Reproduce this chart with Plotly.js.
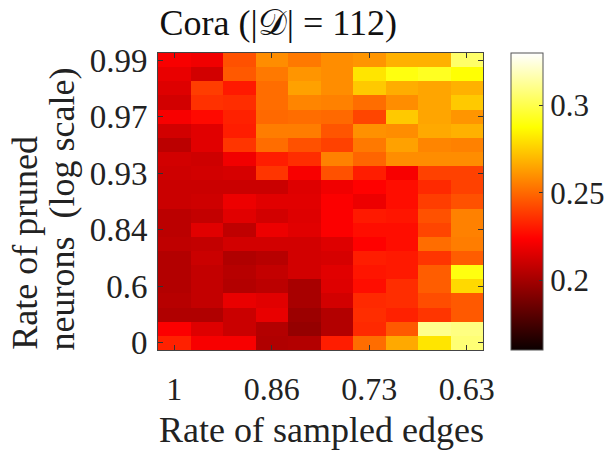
<!DOCTYPE html>
<html>
<head>
<meta charset="utf-8">
<script src="https://cdn.plot.ly/plotly-3.0.1.min.js"></script>
<style>html,body{margin:0;padding:0;background:#fff;}#chart{width:610px;height:452px;}</style>
</head>
<body>
<div id="chart"></div>
<script>
// Columns: rate of sampled edges (index 0..9), rows: rate of pruned neurons (index 0..20, bottom to top)
const colIdx = [0,1,2,3,4,5,6,7,8,9];
const rowIdx = [0,1,2,3,4,5,6,7,8,9,10,11,12,13,14,15,16,17,18,19,20];
const xTickVals = [0,3,6,9];
const xTickText = ['1','0.86','0.73','0.63'];
const yTickVals = [0,4,8,12,16,20];
const yTickText = ['0','0.6','0.84','0.93','0.97','0.99'];
const cbTickVals = [0.2,0.25,0.3];
const cbTickText = ['0.2','0.25','0.3'];

// rows listed bottom (0) to top (0.99)
const row00 = [0.232,0.222,0.222,0.203,0.204,0.231,0.251,0.266,0.281,0.307];
const row01 = [0.223,0.215,0.210,0.204,0.196,0.204,0.234,0.246,0.311,0.309];
const row02 = [0.203,0.203,0.210,0.218,0.198,0.204,0.235,0.232,0.237,0.246];
const row03 = [0.205,0.208,0.218,0.216,0.201,0.212,0.234,0.235,0.243,0.246];
const row04 = [0.204,0.208,0.204,0.206,0.201,0.215,0.227,0.235,0.247,0.278];
const row05 = [0.204,0.208,0.205,0.208,0.212,0.216,0.229,0.230,0.247,0.290];
const row06 = [0.204,0.210,0.203,0.205,0.212,0.213,0.231,0.230,0.237,0.247];
const row07 = [0.207,0.208,0.212,0.212,0.212,0.215,0.224,0.227,0.251,0.255];
const row08 = [0.206,0.216,0.207,0.219,0.216,0.223,0.227,0.227,0.241,0.256];
const row09 = [0.206,0.208,0.216,0.212,0.215,0.223,0.230,0.229,0.244,0.256];
const row10 = [0.210,0.211,0.219,0.216,0.216,0.223,0.219,0.227,0.239,0.244];
const row11 = [0.210,0.210,0.210,0.210,0.215,0.220,0.224,0.227,0.234,0.240];
const row12 = [0.211,0.212,0.213,0.237,0.222,0.244,0.231,0.222,0.240,0.240];
const row13 = [0.212,0.211,0.220,0.231,0.235,0.256,0.249,0.259,0.259,0.259];
const row14 = [0.206,0.216,0.237,0.251,0.244,0.240,0.254,0.264,0.257,0.256];
const row15 = [0.212,0.216,0.231,0.255,0.255,0.245,0.260,0.259,0.266,0.268];
const row16 = [0.222,0.226,0.232,0.250,0.251,0.250,0.241,0.274,0.265,0.261];
const row17 = [0.212,0.236,0.235,0.251,0.257,0.256,0.251,0.259,0.265,0.274];
const row18 = [0.215,0.239,0.230,0.251,0.264,0.259,0.274,0.267,0.265,0.268];
const row19 = [0.218,0.212,0.246,0.254,0.261,0.259,0.281,0.290,0.293,0.288];
const row20 = [0.222,0.220,0.244,0.259,0.254,0.259,0.261,0.268,0.268,0.305];

const zRows = [row00,row01,row02,row03,row04,row05,row06,row07,row08,row09,row10,
               row11,row12,row13,row14,row15,row16,row17,row18,row19,row20];

// MATLAB "hot" colormap
const hot = [[0,'rgb(11,0,0)'],[0.375,'rgb(255,0,0)'],[0.75,'rgb(255,255,0)'],[1,'rgb(255,255,255)']];

const FONT = '"Liberation Serif", "Times New Roman", serif';

const trace = {
  type: 'heatmap',
  x: colIdx, y: rowIdx, z: zRows,
  colorscale: hot, zmin: 0.16, zmax: 0.33,
  colorbar: {
    x: 1.086, xanchor: 'left', xref: 'paper',
    y: 0.5, yanchor: 'middle', len: 1, lenmode: 'fraction',
    thickness: 32, thicknessmode: 'pixels',
    outlinecolor: '#555', outlinewidth: 1,
    tickvals: cbTickVals, ticktext: cbTickText,
    ticks: 'inside', ticklen: 4, tickcolor: '#333',
    tickfont: {family: FONT, size: 31, color: '#222'},
    xpad: 0, ypad: 0
  },
  hoverinfo: 'skip'
};

const layout = {
  width: 610, height: 452,
  margin: {l: 158, r: 127, t: 53, b: 102, autoexpand: false},
  paper_bgcolor: '#fff', plot_bgcolor: '#fff',
  font: {family: FONT, color: '#222'},
  title: {text: 'Cora (|𝒟| = 112)', font: {family: FONT, size: 36, color: '#111'},
          x: 0.37, xref: 'paper', xanchor: 'center', y: 0.95, yref: 'container', yanchor: 'middle'},
  xaxis: {
    range: [-0.5, 9.5], tickvals: xTickVals, ticktext: xTickText,
    ticks: 'inside', ticklen: 5, tickcolor: '#333', showline: true, linecolor: '#444', linewidth: 1,
    mirror: 'ticks', showgrid: false, zeroline: false, automargin: false,
    tickfont: {family: FONT, size: 32, color: '#222'}, ticklabelstandoff: 11
  },
  yaxis: {
    range: [-0.5, 20.5], tickvals: yTickVals, ticktext: yTickText,
    ticks: 'inside', ticklen: 5, tickcolor: '#333', showline: true, linecolor: '#444', linewidth: 1,
    mirror: 'ticks', showgrid: false, zeroline: false, automargin: false,
    tickfont: {family: FONT, size: 33, color: '#222'}, ticklabelstandoff: 3
  },
  annotations: [
    {text: 'Rate of sampled edges', xref: 'paper', yref: 'paper',
     x: 0.502, y: -0.27, xanchor: 'center', yanchor: 'middle', showarrow: false,
     font: {family: FONT, size: 36, color: '#222'}},
    {text: 'Rate of pruned', textangle: -90, xref: 'paper', yref: 'paper',
     x: -0.41, y: -0.007, xanchor: 'center', yanchor: 'bottom', showarrow: false,
     font: {family: FONT, size: 36, color: '#222'}},
    {text: 'neurons  (log scale)', textangle: -90, xref: 'paper', yref: 'paper',
     x: -0.296, y: -0.007, xanchor: 'center', yanchor: 'bottom', showarrow: false,
     font: {family: FONT, size: 36, color: '#222'}}
  ]
};

Plotly.newPlot('chart', [trace], layout, {displayModeBar: false, staticPlot: true});
</script>
</body>
</html>
